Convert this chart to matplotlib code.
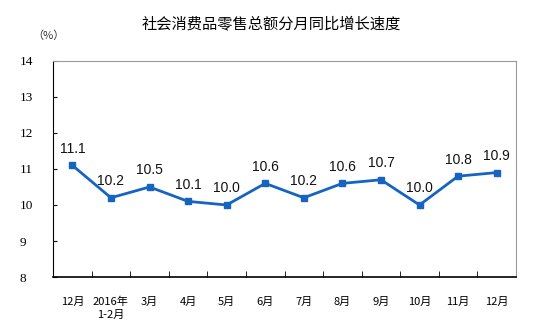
import matplotlib
matplotlib.use("Agg")
import matplotlib.pyplot as plt
import numpy as np

months = ["12月", "2016年\n1-2月", "3月", "4月", "5月", "6月",
          "7月", "8月", "9月", "10月", "11月", "12月"]
growth = [11.1, 10.2, 10.5, 10.1, 10.0, 10.6, 10.2, 10.6, 10.7, 10.0, 10.8, 10.9]

cjk = ["Noto Sans CJK SC", "DejaVu Sans"]
line_color = "#1565c0"

fig = plt.figure(figsize=(5.53, 3.24), dpi=100)
ax = fig.add_axes([0.096, 0.145, 0.837, 0.667])

x = np.arange(len(months))
ax.plot(x, growth, color=line_color, lw=2, marker="s", ms=5,
        markerfacecolor=line_color, markeredgecolor=line_color)

for xi, v in zip(x, growth):
    ax.annotate(f"{v:.1f}", (xi, v), xytext=(0, 12), textcoords="offset points",
                ha="center", va="center", fontsize=10,
                family="Liberation Sans", color="#111111")

ax.set_xlim(-0.5, len(months) - 0.5)
ax.set_ylim(8, 14)
ax.set_yticks(range(8, 15))
ax.set_yticklabels([str(v) for v in range(8, 15)])

# category labels centred, tick marks on the boundaries between them
ax.set_xticks(x)
ax.set_xticklabels(months, family=cjk, fontsize=8, linespacing=1.4, va="top")
ax.set_xticks(np.arange(0.5, len(months) - 0.5), minor=True)
ax.tick_params(axis="x", which="major", length=0, pad=14)
ax.tick_params(axis="x", which="minor", direction="in", length=4, color="black")
ax.tick_params(axis="y", direction="in", length=3, pad=24)
for lab in ax.get_yticklabels():
    lab.set_horizontalalignment("left")
    lab.set_fontfamily("Liberation Serif")
    lab.set_fontsize(9.5)

ax.spines["left"].set_color("black")
ax.spines["bottom"].set_color("black")
ax.spines["bottom"].set_linewidth(1.2)
ax.spines["top"].set_color("#999999")
ax.spines["right"].set_color("#999999")

fig.text(0.49, 0.925, "社会消费品零售总额分月同比增长速度", ha="center", va="center",
         family=cjk, fontsize=11)
fig.text(0.088, 0.89, "（%）", ha="center", va="center", family=cjk, fontsize=8,
         color="#333333")

fig.savefig("out.png", dpi=100)
